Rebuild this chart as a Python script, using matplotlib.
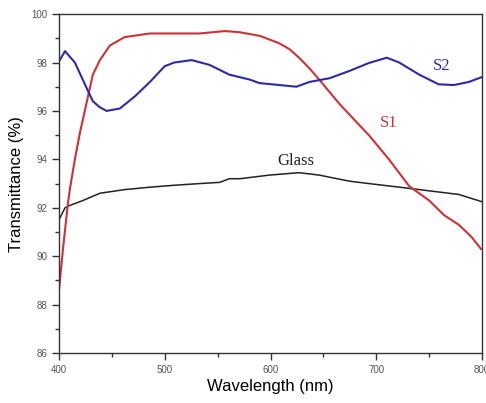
import matplotlib
matplotlib.use("Agg")
import matplotlib.pyplot as plt
from matplotlib.ticker import MultipleLocator

# values
s1_wl = [400, 404, 408.5, 410.4, 415, 419.8, 426.4, 432, 438.7, 448, 462, 486, 510, 533,
         557, 571, 590, 608, 618, 627, 636, 646, 665, 680, 693, 712, 731, 750, 764, 778, 790, 799]
s1_t = [88.6, 90.4, 92.2, 92.8, 94.0, 95.1, 96.4, 97.5, 98.1, 98.7, 99.05, 99.2, 99.2, 99.2,
        99.3, 99.25, 99.1, 98.8, 98.55, 98.2, 97.8, 97.3, 96.3, 95.6, 95.0, 94.0, 92.9, 92.3,
        91.7, 91.3, 90.8, 90.3]

s2_wl = [400, 405.7, 415, 424.5, 432, 438.7, 445, 457.5, 471.7, 486, 500, 509, 525.5, 542.5,
         561, 580, 589.6, 608.5, 624.5, 637, 655.7, 674.5, 693, 710, 721.7, 740.6, 759,
         773.6, 787.7, 800]
s2_t = [98.05, 98.47, 98.0, 97.1, 96.4, 96.15, 96.0, 96.1, 96.6, 97.2, 97.85, 98.0, 98.1, 97.9,
        97.5, 97.3, 97.15, 97.07, 97.0, 97.2, 97.35, 97.65, 97.98, 98.2, 98.0, 97.5, 97.1,
        97.07, 97.2, 97.4]

glass_wl = [400, 405.7, 410.4, 422.6, 438.7, 462, 486, 509, 533, 552, 561, 571, 599, 627,
            646, 674.5, 693, 722, 750, 778, 800]
glass_t = [91.5, 92.0, 92.1, 92.3, 92.6, 92.75, 92.85, 92.93, 93.0, 93.05, 93.2, 93.2, 93.35,
           93.45, 93.35, 93.1, 93.0, 92.85, 92.7, 92.55, 92.25]

red = "#cc3236"
blue = "#2b2ba6"

fig = plt.figure(figsize=(4.86, 4.03), dpi=100)
ax = fig.add_axes([0.1214, 0.124, 0.8704, 0.841])

ax.plot(glass_wl, glass_t, color="#222222", lw=1.1)
ax.plot(s1_wl, s1_t, color=red, lw=1.5)
ax.plot(s2_wl, s2_t, color=blue, lw=1.5)

ax.text(624, 93.75, "Glass", family="Liberation Serif", fontsize=12, color="#222222", ha="center")
ax.text(712, 95.35, "S1", family="Liberation Serif", fontsize=12, color=red, ha="center")
ax.text(762, 97.7, "S2", family="Liberation Serif", fontsize=12, color=blue, ha="center")

ax.set_xlim(400, 800)
ax.set_ylim(86, 100)
ax.xaxis.set_major_locator(MultipleLocator(100))
ax.xaxis.set_minor_locator(MultipleLocator(50))
ax.yaxis.set_major_locator(MultipleLocator(2))
ax.yaxis.set_minor_locator(MultipleLocator(1))
ax.tick_params(which="both", direction="out", top=False, right=False,
               labelsize=7, labelcolor="#555555", color="#333333")
ax.tick_params(which="major", length=5, width=1)
ax.tick_params(which="minor", length=3, width=1)
for lab in ax.get_xticklabels() + ax.get_yticklabels():
    lab.set_family("Liberation Sans")
for s in ax.spines.values():
    s.set_color("#333333")
    s.set_linewidth(1.0)

ax.set_xlabel("Wavelength (nm)", family="Liberation Sans", fontsize=12, labelpad=3)
ax.set_ylabel("Transmittance (%)", family="Liberation Sans", fontsize=12, labelpad=5)

fig.savefig("out.png", dpi=100)
